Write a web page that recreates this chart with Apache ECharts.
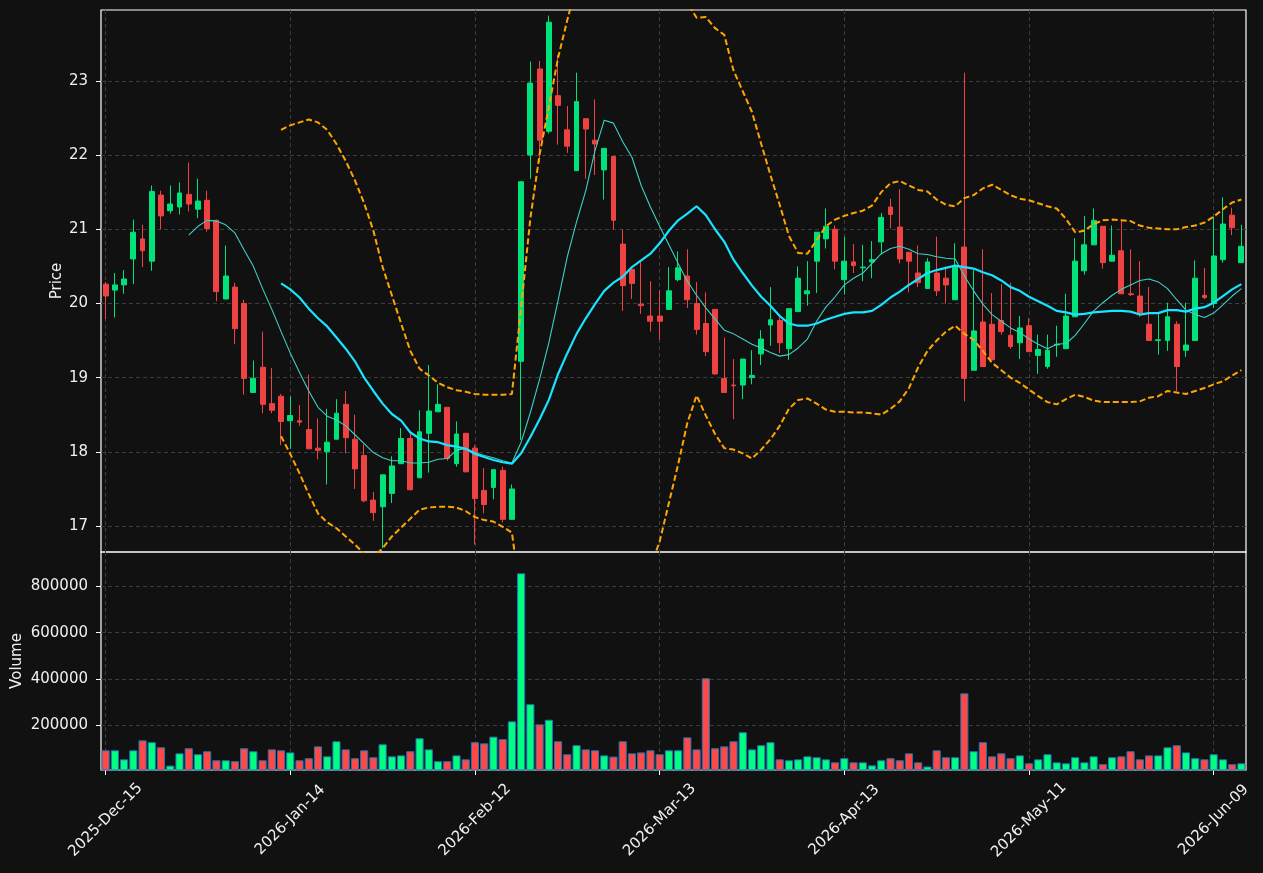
<!DOCTYPE html>
<html><head><meta charset="utf-8">
<script src="https://cdn.jsdelivr.net/npm/echarts@6/dist/echarts.min.js"></script>
<style>html,body{margin:0;padding:0;background:#111111;}#chart{width:1263px;height:873px;}</style>
</head><body><div id="chart"></div>
<script>
const dates = [
'2025-Dec-15','2025-Dec-16','2025-Dec-17','2025-Dec-18','2025-Dec-19','2025-Dec-22','2025-Dec-23','2025-Dec-24','2025-Dec-26','2025-Dec-29','2025-Dec-30','2025-Dec-31',
'2026-Jan-02','2026-Jan-05','2026-Jan-06','2026-Jan-07','2026-Jan-08','2026-Jan-09','2026-Jan-12','2026-Jan-13','2026-Jan-14','2026-Jan-15','2026-Jan-16',
'2026-Jan-20','2026-Jan-21','2026-Jan-22','2026-Jan-23','2026-Jan-26','2026-Jan-27','2026-Jan-28','2026-Jan-29','2026-Jan-30',
'2026-Feb-02','2026-Feb-03','2026-Feb-04','2026-Feb-05','2026-Feb-06','2026-Feb-09','2026-Feb-10','2026-Feb-11','2026-Feb-12','2026-Feb-13',
'2026-Feb-17','2026-Feb-18','2026-Feb-19','2026-Feb-20','2026-Feb-23','2026-Feb-24','2026-Feb-25','2026-Feb-26','2026-Feb-27',
'2026-Mar-02','2026-Mar-03','2026-Mar-04','2026-Mar-05','2026-Mar-06','2026-Mar-09','2026-Mar-10','2026-Mar-11','2026-Mar-12','2026-Mar-13',
'2026-Mar-16','2026-Mar-17','2026-Mar-18','2026-Mar-19','2026-Mar-20','2026-Mar-23','2026-Mar-24','2026-Mar-25','2026-Mar-26','2026-Mar-27','2026-Mar-30','2026-Mar-31',
'2026-Apr-01','2026-Apr-02','2026-Apr-06','2026-Apr-07','2026-Apr-08','2026-Apr-09','2026-Apr-10','2026-Apr-13','2026-Apr-14','2026-Apr-15','2026-Apr-16','2026-Apr-17',
'2026-Apr-20','2026-Apr-21','2026-Apr-22','2026-Apr-23','2026-Apr-24','2026-Apr-27','2026-Apr-28','2026-Apr-29','2026-Apr-30',
'2026-May-01','2026-May-04','2026-May-05','2026-May-06','2026-May-07','2026-May-08','2026-May-11','2026-May-12','2026-May-13','2026-May-14','2026-May-15',
'2026-May-18','2026-May-19','2026-May-20','2026-May-21','2026-May-22','2026-May-26','2026-May-27','2026-May-28','2026-May-29',
'2026-Jun-01','2026-Jun-02','2026-Jun-03','2026-Jun-04','2026-Jun-05','2026-Jun-08','2026-Jun-09','2026-Jun-10','2026-Jun-11','2026-Jun-12'];

const opens = [20.26,20.18,20.25,20.60,20.87,20.57,21.46,21.25,21.30,21.47,21.27,21.39,21.12,20.06,20.22,20.00,18.80,19.14,18.65,18.75,
18.42,18.42,18.30,18.05,18.00,18.17,18.64,18.17,17.95,17.35,17.26,17.44,17.84,18.18,17.65,18.25,18.54,18.60,17.84,18.25,
18.05,17.48,17.52,17.75,17.09,19.22,22.00,23.16,22.32,22.80,22.34,21.79,22.49,22.20,21.80,21.98,20.80,20.46,19.99,19.83,
19.83,19.92,20.32,20.37,20.00,19.73,19.92,18.99,18.90,18.90,19.00,19.32,19.71,19.77,19.39,19.89,20.13,20.57,20.87,21.00,
20.32,20.56,20.48,20.56,20.83,21.30,21.03,20.69,20.41,20.20,20.41,20.34,20.05,20.76,19.10,19.75,19.72,19.77,19.57,19.47,
19.70,19.30,19.15,19.44,19.39,19.82,20.44,20.79,21.04,20.57,20.71,20.13,20.10,19.72,19.50,19.50,19.72,19.37,19.50,20.11,
20.00,20.59,21.19,20.55];
const closes = [20.10,20.25,20.33,20.96,20.71,21.51,21.18,21.34,21.49,21.34,21.38,21.01,20.16,20.37,19.66,18.99,18.99,18.64,18.56,18.41,
18.49,18.40,18.04,18.02,18.13,18.52,18.19,17.77,17.34,17.18,17.69,17.81,18.18,17.49,18.27,18.55,18.64,17.91,18.24,17.73,
17.37,17.29,17.76,17.09,17.50,21.64,22.97,22.20,23.79,22.67,22.12,22.72,22.35,22.15,22.09,21.12,20.24,20.27,19.97,19.76,
19.76,20.17,20.48,20.05,19.65,19.35,19.05,18.80,18.89,19.25,19.03,19.52,19.78,19.47,19.93,20.34,20.17,20.96,21.04,20.57,
20.57,20.51,20.49,20.59,21.16,21.20,20.60,20.57,20.28,20.56,20.17,20.25,20.51,18.99,19.63,19.15,19.24,19.62,19.42,19.67,
19.35,19.38,19.37,19.45,19.83,20.57,20.79,21.12,20.55,20.65,20.13,20.12,19.87,19.50,19.51,19.82,19.15,19.44,20.34,20.08,
20.64,21.07,21.02,20.77];
const lows = [19.79,19.81,20.13,20.26,20.49,20.44,21.00,21.21,21.20,21.24,21.15,20.97,20.03,20.06,19.45,18.77,18.80,18.52,18.52,18.09,
18.04,18.35,18.04,17.90,17.56,18.17,17.98,17.50,17.32,17.07,16.70,17.31,17.84,17.48,17.65,17.72,18.54,17.88,17.80,17.73,
16.75,17.17,17.36,17.05,17.09,18.16,21.68,21.90,22.29,22.14,22.03,21.79,21.68,21.73,21.40,21.00,19.90,20.06,19.86,19.62,
19.51,19.92,20.30,19.94,19.58,19.29,19.04,18.80,18.44,18.71,18.91,19.17,19.43,19.33,19.24,19.89,19.97,20.14,20.74,20.46,
20.12,20.41,20.30,20.34,20.66,21.01,20.54,20.15,20.22,20.20,20.10,20.00,20.05,18.68,19.10,19.15,19.24,19.58,19.39,19.25,
19.35,19.05,19.12,19.28,19.39,19.82,20.39,20.79,20.47,20.57,20.13,20.10,19.82,19.50,19.31,19.36,18.82,19.28,19.50,20.06,
19.94,20.55,20.92,20.55];
const highs = [20.29,20.41,20.45,21.13,21.06,21.59,21.52,21.59,21.63,21.90,21.68,21.52,21.13,20.78,20.28,20.05,19.23,19.62,19.13,18.78,
18.75,18.63,19.04,18.45,18.58,18.71,18.82,18.50,18.10,17.46,17.69,17.94,18.32,18.26,18.56,19.17,18.91,18.60,18.41,18.25,
18.09,17.78,17.76,17.80,17.56,21.65,23.26,23.27,23.88,23.35,22.66,23.11,22.49,22.75,22.09,21.98,21.00,20.46,20.56,20.30,
20.18,20.49,20.70,20.73,20.29,20.15,19.92,19.54,19.25,19.25,19.37,19.64,20.22,19.81,19.93,20.50,20.57,20.96,21.28,21.05,
20.90,20.80,20.79,20.84,21.22,21.41,21.54,20.69,20.78,20.61,20.90,20.50,20.81,23.11,20.45,20.73,20.14,20.26,20.28,19.83,
19.80,19.58,19.58,19.70,20.13,20.88,21.18,21.28,21.04,21.05,21.11,20.73,20.57,20.22,19.86,20.01,19.76,20.01,20.58,20.48,
21.17,21.43,21.29,21.06];
const volumes = [92000,92000,53000,92000,135000,127000,105000,26000,79000,101000,75000,88000,49000,49000,45000,101000,88000,49000,96000,92000,
83000,49000,58000,109000,66000,131000,96000,58000,92000,62000,118000,66000,70000,88000,144000,96000,45000,45000,70000,53000,
127000,122000,151000,140000,217000,856000,291000,204000,224000,131000,75000,114000,96000,92000,70000,65000,131000,79000,83000,92000,
75000,92000,92000,148000,96000,403000,101000,109000,131000,170000,96000,114000,127000,53000,49000,53000,66000,62000,53000,40000,
58000,40000,40000,27000,49000,58000,49000,79000,40000,22000,92000,62000,62000,338000,88000,127000,66000,79000,58000,70000,
36000,53000,75000,40000,36000,62000,40000,66000,32000,62000,66000,88000,53000,70000,70000,105000,114000,83000,58000,53000,
75000,53000,32000,36000];
const ma10 = [null,null,null,null,null,null,null,null,null,20.92,21.04,21.12,21.11,21.06,20.95,20.72,20.50,20.20,19.92,19.62,
19.33,19.07,18.82,18.60,18.48,18.43,18.35,18.23,18.11,17.99,17.92,17.88,17.88,17.85,17.85,17.86,17.90,17.91,18.02,18.05,
17.99,17.95,17.92,17.88,17.85,18.13,18.53,18.98,19.47,20.04,20.63,21.10,21.52,22.06,22.47,22.43,22.18,21.97,21.59,21.30,
21.04,20.79,20.54,20.30,20.11,19.94,19.79,19.64,19.59,19.52,19.45,19.40,19.34,19.29,19.31,19.40,19.52,19.76,19.95,20.09,
20.25,20.34,20.41,20.54,20.67,20.74,20.77,20.73,20.67,20.66,20.63,20.61,20.60,20.37,20.17,19.99,19.85,19.76,19.67,19.61,
19.52,19.45,19.39,19.45,19.46,19.57,19.73,19.90,20.01,20.11,20.19,20.25,20.31,20.33,20.29,20.20,20.05,19.91,19.85,19.81,
19.87,19.98,20.10,20.20];
const ma20 = [null,null,null,null,null,null,null,null,null,null,null,null,null,null,null,null,null,null,null,20.27,
20.19,20.08,19.93,19.80,19.69,19.54,19.39,19.22,19.00,18.82,18.65,18.51,18.42,18.26,18.18,18.14,18.13,18.09,18.07,18.04,
17.97,17.93,17.89,17.86,17.84,17.98,18.20,18.44,18.70,19.05,19.33,19.59,19.80,19.99,20.17,20.28,20.36,20.49,20.58,20.67,
20.81,20.98,21.12,21.21,21.31,21.19,21.00,20.83,20.59,20.41,20.24,20.09,19.97,19.83,19.73,19.70,19.70,19.73,19.78,19.82,
19.86,19.88,19.88,19.90,19.98,20.08,20.16,20.25,20.33,20.41,20.45,20.48,20.51,20.49,20.47,20.42,20.38,20.31,20.22,20.17,
20.09,20.03,19.97,19.90,19.88,19.85,19.86,19.88,19.89,19.90,19.90,19.89,19.85,19.87,19.87,19.91,19.91,19.89,19.93,19.95,
20.01,20.10,20.19,20.26];
const bbUpper = [null,null,null,null,null,null,null,null,null,null,null,null,null,null,null,null,null,null,null,22.34,
22.40,22.44,22.48,22.44,22.34,22.15,21.92,21.66,21.35,20.98,20.49,20.11,19.73,19.36,19.12,19.03,18.93,18.87,18.83,18.81,
18.78,18.77,18.77,18.77,18.78,19.95,21.15,22.01,22.65,23.31,23.82,24.30,24.60,24.80,24.90,24.95,24.90,24.80,24.65,24.50,
24.40,24.30,24.20,24.05,23.85,23.86,23.71,23.62,23.14,22.86,22.58,22.15,21.73,21.33,20.91,20.68,20.67,20.85,21.04,21.13,
21.18,21.22,21.25,21.32,21.50,21.62,21.65,21.59,21.53,21.51,21.40,21.33,21.31,21.42,21.46,21.55,21.60,21.53,21.46,21.41,
21.39,21.35,21.31,21.28,21.14,20.96,20.98,21.07,21.12,21.13,21.12,21.11,21.05,21.02,21.01,21.00,21.00,21.03,21.05,21.09,
21.17,21.27,21.36,21.40];
const bbLower = [null,null,null,null,null,null,null,null,null,null,null,null,null,null,null,null,null,null,null,18.21,
17.97,17.71,17.43,17.17,17.05,16.97,16.86,16.75,16.63,16.58,16.70,16.86,16.98,17.10,17.22,17.25,17.26,17.26,17.25,17.20,
17.12,17.08,17.06,16.99,16.91,16.00,15.30,14.90,14.50,14.45,14.50,14.60,14.75,14.90,15.10,15.35,15.60,15.85,16.10,16.45,
16.79,17.31,17.83,18.39,18.76,18.49,18.24,18.05,18.03,17.98,17.91,18.03,18.17,18.35,18.58,18.70,18.72,18.65,18.57,18.54,
18.54,18.53,18.53,18.52,18.50,18.58,18.68,18.86,19.14,19.36,19.50,19.62,19.70,19.59,19.51,19.36,19.20,19.10,19.00,18.93,
18.84,18.75,18.67,18.64,18.71,18.77,18.74,18.69,18.67,18.67,18.67,18.67,18.68,18.73,18.75,18.82,18.80,18.78,18.82,18.86,
18.91,18.95,19.03,19.10];
const priceTicks = [17,18,19,20,21,22,23];
const volumeTicks = [200000,400000,600000,800000];

const UP = '#00e27a', DOWN = '#ef4242';
const VUP = '#00ff80', VDOWN = '#ff4848';
const FONT = 'DejaVu Sans';
const TXT = '#f0f0f0';
const gridLine = {color:'#3c3c3c', type:[4,3], width:1};

const candleData = dates.map((d,i)=>[opens[i],closes[i],lows[i],highs[i]]);
const volData = volumes.map((v,i)=>({value:v, itemStyle:{color: closes[i]>=opens[i]?VUP:VDOWN}}));

const chart = echarts.init(document.getElementById('chart'), null, {renderer:'canvas'});
chart.setOption({
  backgroundColor:'#111111',
  animation:false,
  textStyle:{fontFamily:FONT},
  grid:[
    {left:101, top:10, width:1145, height:542, show:true, borderColor:'#ffffff', borderWidth:1.2, backgroundColor:'rgba(0,0,0,0)'},
    {left:101, top:552, width:1145, height:218, show:true, borderColor:'#ffffff', borderWidth:1.2, backgroundColor:'rgba(0,0,0,0)'}
  ],
  xAxis:[
    {type:'category', gridIndex:0, data:dates, boundaryGap:true,
     axisLine:{show:false}, axisTick:{show:false}, axisLabel:{show:false},
     splitLine:{show:true, interval:19, alignWithLabel:true, lineStyle:gridLine}},
    {type:'category', gridIndex:1, data:dates, boundaryGap:true,
     axisLine:{show:false},
     axisTick:{show:true, interval:19, alignWithLabel:true, length:5, lineStyle:{color:'#ffffff', width:1}},
     axisLabel:{show:true, interval:19, rotate:45, align:'center', verticalAlign:'middle', margin:50,
       color:TXT, fontSize:15, fontFamily:FONT},
     splitLine:{show:true, interval:19, alignWithLabel:true, lineStyle:gridLine}}
  ],
  yAxis:[
    {type:'value', gridIndex:0, min:16.65, max:23.955, scale:true,
     name:'Price', nameLocation:'middle', nameGap:36, nameRotate:90, nameMoveOverlap:false,
     nameTextStyle:{color:TXT, fontSize:15, fontFamily:FONT},
     axisLine:{show:false},
     axisTick:{show:true, customValues:priceTicks, length:5, lineStyle:{color:'#ffffff'}},
     axisLabel:{show:true, customValues:priceTicks, margin:13, color:TXT, fontSize:15, fontFamily:FONT},
     splitLine:{show:true, lineStyle:gridLine}},
    {type:'value', gridIndex:1, min:7000, max:948000,
     name:'Volume', nameLocation:'middle', nameGap:76, nameRotate:90, nameMoveOverlap:false,
     nameTextStyle:{color:TXT, fontSize:15, fontFamily:FONT},
     axisLine:{show:false},
     axisTick:{show:true, customValues:volumeTicks, length:5, lineStyle:{color:'#ffffff'}},
     axisLabel:{show:true, customValues:volumeTicks, margin:13, color:TXT, fontSize:15, fontFamily:FONT,
       formatter:(v)=>String(v)},
     splitLine:{show:true, lineStyle:gridLine}}
  ],
  series:[
    {type:'candlestick', name:'OHLC', xAxisIndex:0, yAxisIndex:0, data:candleData, barWidth:'58%',
     itemStyle:{color:UP, color0:DOWN, borderColor:UP, borderColor0:DOWN, borderWidth:1}, z:2},
    {type:'line', name:'MA10', xAxisIndex:0, yAxisIndex:0, data:ma10, symbol:'none', clip:true,
     lineStyle:{color:'#3fd0c6', width:1.1}, z:3},
    {type:'line', name:'MA20', xAxisIndex:0, yAxisIndex:0, data:ma20, symbol:'none', clip:true,
     lineStyle:{color:'#19e3ff', width:2.2}, z:3},
    {type:'line', name:'BB Upper', xAxisIndex:0, yAxisIndex:0, data:bbUpper, symbol:'none', clip:true,
     lineStyle:{color:'#ffa500', width:2, type:[6,3]}, z:4},
    {type:'line', name:'BB Lower', xAxisIndex:0, yAxisIndex:0, data:bbLower, symbol:'none', clip:true,
     lineStyle:{color:'#ffa500', width:2, type:[6,3]}, z:4},
    {type:'bar', name:'Volume', xAxisIndex:1, yAxisIndex:1, data:volData, barWidth:'88%',
     itemStyle:{borderColor:'#1f77b4', borderWidth:1}, z:2}
  ]
});
</script></body></html>
